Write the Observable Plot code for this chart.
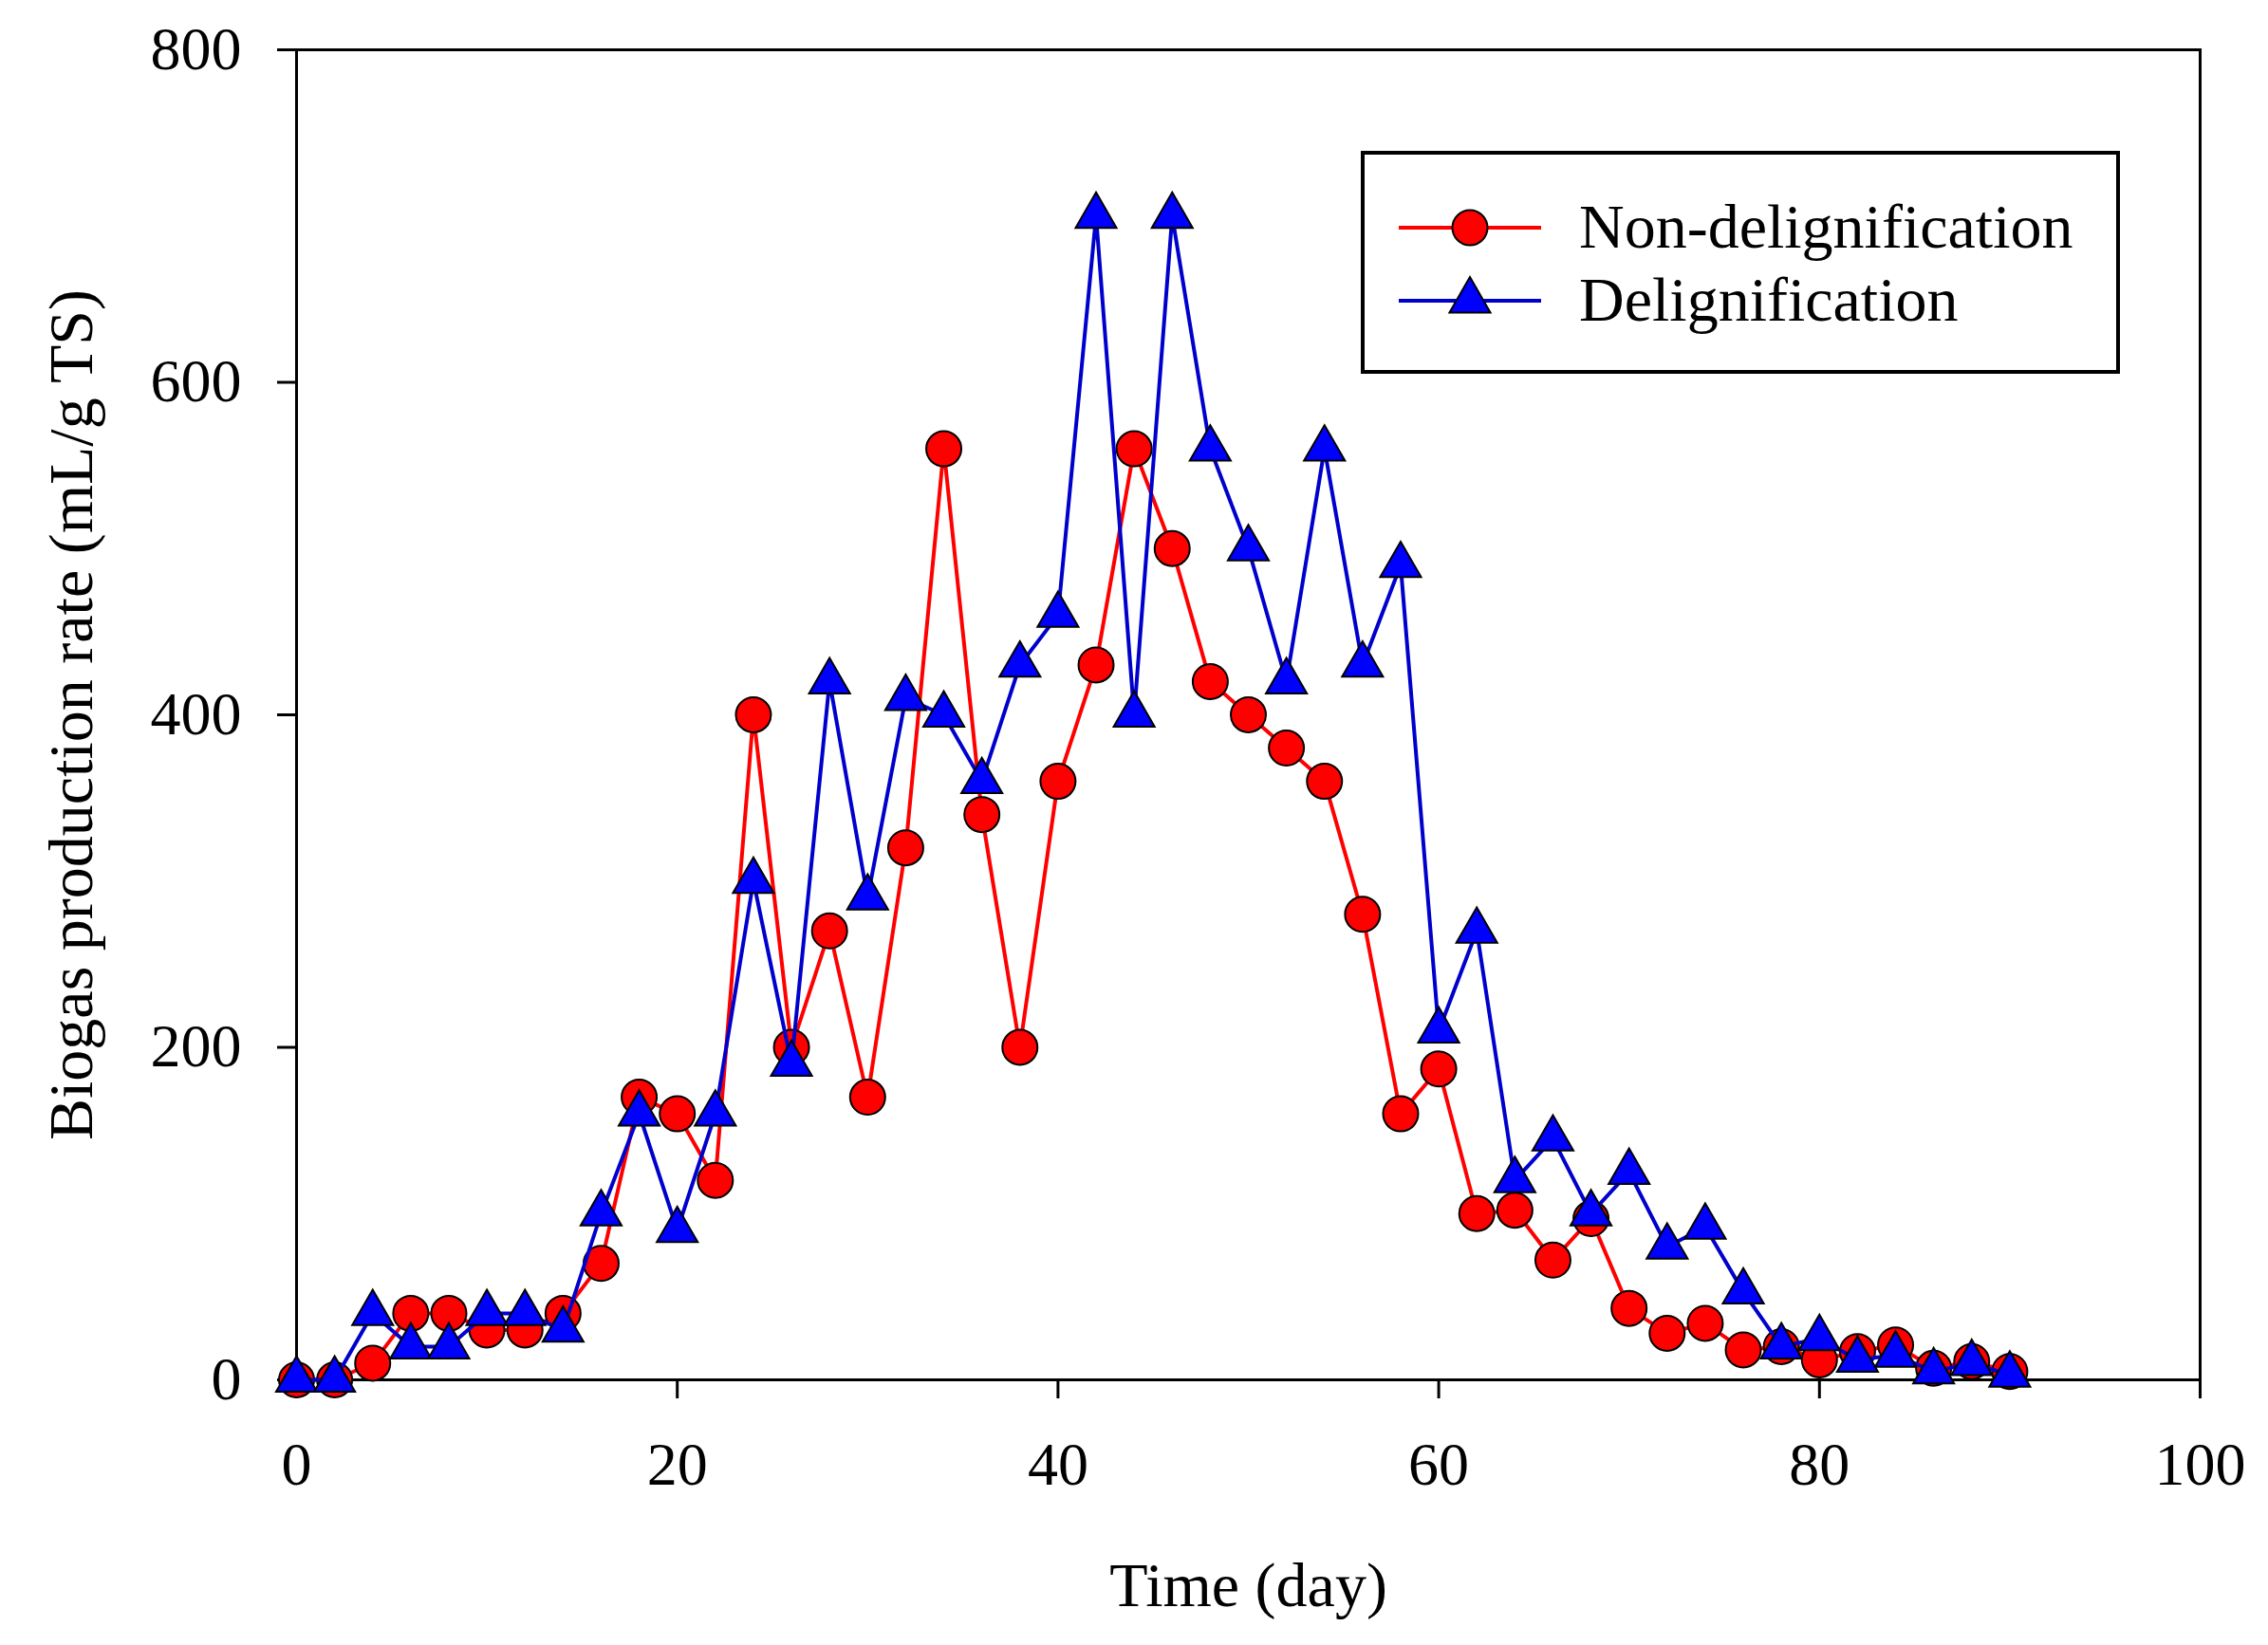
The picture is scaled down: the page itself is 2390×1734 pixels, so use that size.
<!DOCTYPE html>
<html>
<head>
<meta charset="utf-8">
<script src="https://cdn.jsdelivr.net/npm/d3@7"></script>
<script src="https://cdn.jsdelivr.net/npm/@observablehq/plot@0.6"></script>
<style>
  body { margin: 0; background: #fff; }
  #chart { position: relative; width: 2390px; height: 1734px; }
  #legend {
    position: absolute; left: 1434px; top: 159px; width: 800px; height: 235px;
    box-sizing: border-box; border: 4px solid #000; background: #fff;
  }
  #legend svg { position: absolute; left: 0; top: 0; }
</style>
</head>
<body>
<div id="chart"></div>
<script>
// series names
const seriesNames = ['Non-delignification', 'Delignification'];

// time (day)
const days = [0, 2, 4, 6, 8, 10, 12, 14, 16, 18, 20, 22, 24, 26, 28, 30, 32, 34, 36, 38,
  40, 42, 44, 46, 48, 50, 52, 54, 56, 58, 60, 62, 64, 66, 68, 70, 72, 74, 76, 78,
  80, 82, 84, 86, 88, 90];

// biogas production rate (mL/g TS)
const nonDelig = [0, 0, 10, 40, 40, 30, 30, 40, 70, 170, 160, 120, 400, 200, 270, 170, 320, 560, 340, 200,
  360, 430, 560, 500, 420, 400, 380, 360, 280, 160, 187, 100, 102, 72, 97, 43, 28, 34, 18, 20,
  12, 17, 21, 7, 11, 5];
const delig = [0, 0, 40, 20, 20, 40, 40, 30, 100, 160, 90, 160, 300, 190, 420, 290, 410, 400, 360, 430,
  460, 700, 400, 700, 560, 500, 420, 560, 430, 490, 210, 270, 120, 145, 100, 125, 80, 92, 53, 20,
  25, 12, 15, 5, 10, 3];

const xTicks = [0, 20, 40, 60, 80, 100];
const yTicks = [0, 200, 400, 600, 800];

const fillColors = ['#ff0000', '#0000ff'];
const lineColors = ['#ff0000', '#0000cc'];
const symbols = ['circle', 'triangle'];
const radii = [18.5, 16];
const font = '"Liberation Serif", "Times New Roman", serif';

const rowsA = days.map((d, i) => ({day: d, rate: nonDelig[i]}));
const rowsB = days.map((d, i) => ({day: d, rate: delig[i]}));

const chart = Plot.plot({
  width: 2390,
  height: 1734,
  marginLeft: 312,
  marginRight: 72,
  marginTop: 52,
  marginBottom: 280,
  style: {fontFamily: font, background: 'white', color: 'black'},
  x: {domain: [0, 100]},
  y: {domain: [0, 800]},
  marks: [
    Plot.frame({stroke: 'black', strokeWidth: 3}),
    Plot.axisX({ticks: xTicks, tickSize: 20, tickPadding: 45, fontSize: 64, strokeWidth: 3, label: null}),
    Plot.axisY({ticks: yTicks, tickSize: 20, tickPadding: 38, fontSize: 64, strokeWidth: 3, label: null}),
    Plot.line(rowsA, {x: 'day', y: 'rate', stroke: lineColors[0], strokeWidth: 4}),
    Plot.dot(rowsA, {x: 'day', y: 'rate', r: radii[0], symbol: symbols[0], fill: fillColors[0], stroke: '#000', strokeWidth: 2}),
    Plot.line(rowsB, {x: 'day', y: 'rate', stroke: lineColors[1], strokeWidth: 4}),
    Plot.dot(rowsB, {x: 'day', y: 'rate', r: radii[1], symbol: symbols[1], fill: fillColors[1], stroke: '#000', strokeWidth: 2}),
    Plot.text(['Time (day)'], {text: d => d, frameAnchor: 'bottom', dy: 238, fontSize: 66}),
    Plot.text(['Biogas production rate (mL/g TS)'], {text: d => d, frameAnchor: 'left', textAnchor: 'middle', rotate: -90, dx: -237, fontSize: 66})
  ]
});
d3.select('#chart').append(() => chart);

// legend box, drawn with d3
const legend = d3.select('#chart').append('div').attr('id', 'legend');
const lsvg = legend.append('svg').attr('width', 792).attr('height', 227);
seriesNames.forEach((name, i) => {
  const cy = 77 + i * 77;
  const g = lsvg.append('g');
  g.append('line').attr('x1', 36).attr('x2', 186).attr('y1', cy).attr('y2', cy)
    .attr('stroke', lineColors[i]).attr('stroke-width', 4);
  g.append('path')
    .attr('d', d3.symbol(i === 0 ? d3.symbolCircle : d3.symbolTriangle, radii[i] * radii[i] * Math.PI)())
    .attr('transform', `translate(111,${cy})`)
    .attr('fill', fillColors[i]).attr('stroke', '#000').attr('stroke-width', 2);
  g.append('text').attr('x', 226).attr('y', cy).attr('dy', '0.32em')
    .attr('font-family', font).attr('font-size', 66).text(name);
});
</script>
</body>
</html>
